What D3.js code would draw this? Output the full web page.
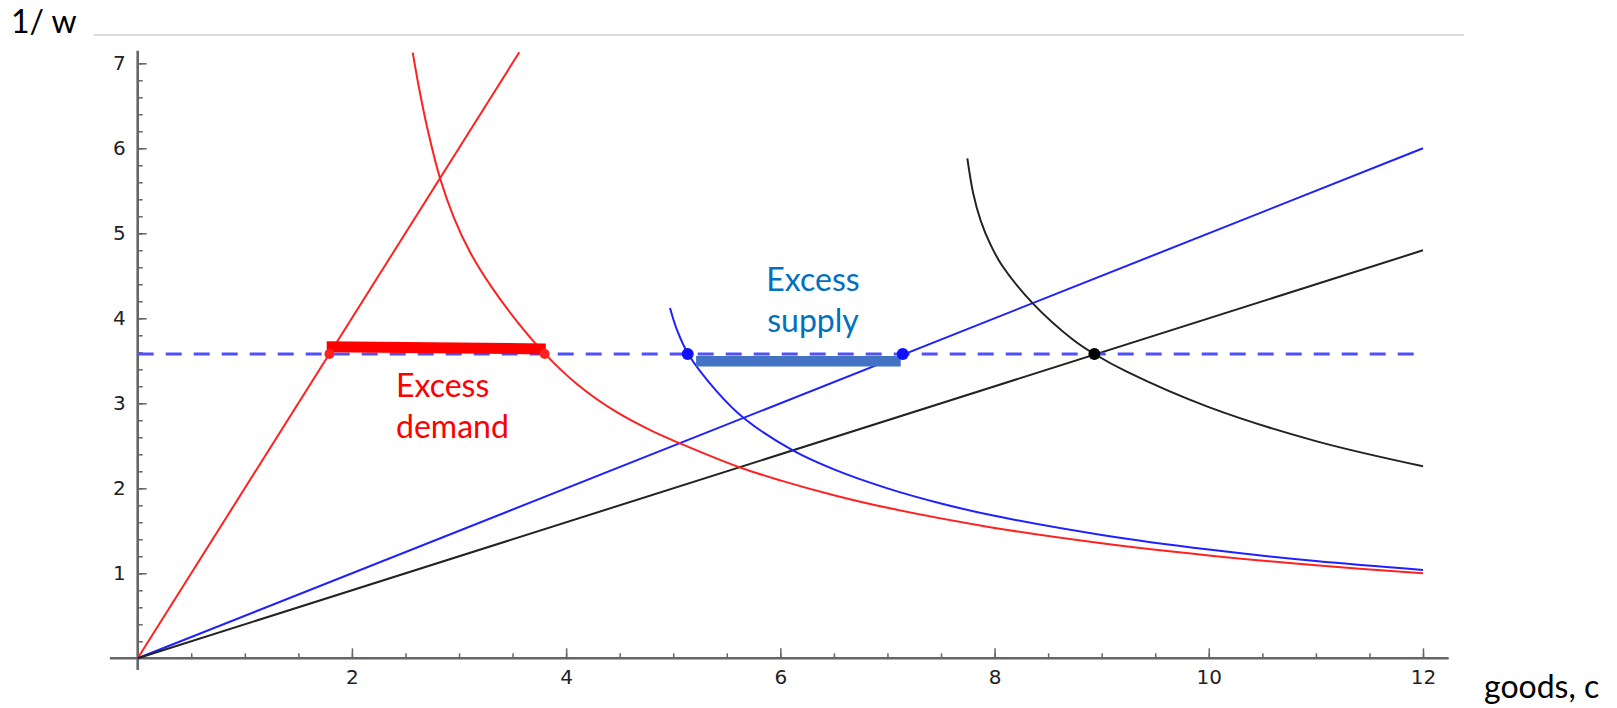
<!DOCTYPE html>
<html>
<head>
<meta charset="utf-8">
<script src="https://cdn.jsdelivr.net/npm/d3@7"></script>
<style>
  html, body { margin: 0; padding: 0; background: #fff; }
  svg { display: block; }
</style>
</head>
<body>
<svg id="chart" width="1617" height="708"></svg>
<script>
// ---------- data ----------
const xMajorTicks = [2, 4, 6, 8, 10, 12];
const yMajorTicks = [1, 2, 3, 4, 5, 6, 7];
const xMinorTicks = d3.range(0.5, 12.01, 0.5);
const yMinorTicks = d3.range(0.2, 7.01, 0.2);

// straight rays through origin: [x, y]
const redRay   = [[0, 0], [3.563, 7.13]];
const blueRay  = [[0, 0], [12, 6.0]];
const blackRay = [[0, 0], [12, 4.8]];

// curved (indifference-like) curves: [x, y]
const redCurve = [
  [2.568, 7.125], [2.62, 6.754], [2.70, 6.26], [2.823, 5.647], [2.95, 5.19],
  [3.1, 4.785], [3.3, 4.375], [3.55, 3.95], [3.8, 3.585], [4.1, 3.228],
  [4.45, 2.913], [4.8, 2.675], [5.057, 2.532], [5.624, 2.245], [6.0, 2.093],
  [6.5, 1.918], [7, 1.77], [8, 1.534], [9, 1.353], [10, 1.21], [11, 1.095], [12, 1.0]
];
const blueCurve = [
  [4.97, 4.12], [5.03, 3.88], [5.14, 3.58], [5.40, 3.15], [5.661, 2.824],
  [6.121, 2.442], [6.5, 2.222], [7, 1.999], [7.5, 1.821], [8, 1.676],
  [9, 1.451], [10, 1.279], [11, 1.144], [12, 1.04]
];
const blackCurve = [
  [7.746, 5.881], [7.8, 5.473], [7.87, 5.151], [7.96, 4.872], [8.07, 4.621],
  [8.357, 4.176], [8.736, 3.745], [8.932, 3.58], [9.234, 3.372], [10, 2.955],
  [11, 2.555], [12, 2.259]
];

const priceLevel = 3.58;            // dashed horizontal line
const priceLineX = [0, 12];

const redDots   = [[1.79, 3.58], [3.80, 3.58]];
const blueDots  = [[5.135, 3.58], [7.143, 3.58]];
const blackDots = [[8.932, 3.58]];

const excessDemandBar = [[1.765, 3.665], [3.81, 3.64]];
const excessSupplyBar = [[5.213, 3.494], [7.124, 3.494]];

const xAxisExtent = [-0.26, 12.24];
const yAxisExtent = [-0.138, 7.148];

const labels = {
  yTitle: "1/ w",
  xTitle: "goods, c",
  demand: ["Excess", "demand"],
  supply: ["Excess", "supply"]
};

// ---------- layout ----------
const svg = d3.select("#chart");
const x = d3.scaleLinear().domain([0, 12]).range([137.7, 1423]);
const y = d3.scaleLinear().domain([0, 7]).range([658.3, 63.3]);

const line = d3.line().x(d => x(d[0])).y(d => y(d[1]));
const curve = d3.line().x(d => x(d[0])).y(d => y(d[1])).curve(d3.curveCatmullRom.alpha(0.5));

// top faint rule
svg.append("line")
  .attr("x1", 94).attr("x2", 1464).attr("y1", 35).attr("y2", 35)
  .attr("stroke", "#dcdcdc").attr("stroke-width", 2);

// axes
const axisColor = "#666";
const gx = svg.append("g").attr("transform", `translate(0,${y(0)})`);
gx.append("line")
  .attr("x1", x(xAxisExtent[0])).attr("x2", x(xAxisExtent[1]))
  .attr("stroke", axisColor).attr("stroke-width", 2.6);
gx.append("g").call(d3.axisBottom(x).tickValues(xMinorTicks).tickSize(-5).tickFormat(""))
  .call(g => g.select(".domain").remove())
  .call(g => g.selectAll("line").attr("stroke", axisColor).attr("stroke-width", 1.5));
gx.append("g").call(d3.axisBottom(x).tickValues(xMajorTicks).tickSize(-10).tickPadding(12).tickFormat(d3.format("d")))
  .call(g => g.select(".domain").remove())
  .call(g => g.selectAll("line").attr("stroke", axisColor).attr("stroke-width", 1.5))
  .call(g => g.selectAll("text").attr("font-family", "DejaVu Sans").attr("font-size", 20).attr("fill", "#222"));

const gy = svg.append("g").attr("transform", `translate(${x(0)},0)`);
gy.append("line")
  .attr("y1", y(yAxisExtent[0])).attr("y2", y(yAxisExtent[1]))
  .attr("stroke", axisColor).attr("stroke-width", 2.6);
gy.append("g").call(d3.axisLeft(y).tickValues(yMinorTicks).tickSize(-5).tickFormat(""))
  .call(g => g.select(".domain").remove())
  .call(g => g.selectAll("line").attr("stroke", axisColor).attr("stroke-width", 1.5));
gy.append("g").call(d3.axisLeft(y).tickValues(yMajorTicks).tickSize(-9).tickPadding(12).tickFormat(d3.format("d")))
  .call(g => g.select(".domain").remove())
  .call(g => g.selectAll("line").attr("stroke", axisColor).attr("stroke-width", 1.5))
  .call(g => g.selectAll("text").attr("font-family", "DejaVu Sans").attr("font-size", 20).attr("fill", "#222"));

// curves
const drawPath = (data, gen, color, w) =>
  svg.append("path").datum(data).attr("d", gen)
    .attr("fill", "none").attr("stroke", color).attr("stroke-width", w)
    .attr("stroke-linejoin", "round");

drawPath(redRay, line, "#ff2020", 2);
drawPath(blueRay, line, "#2020ff", 2);
drawPath(blackRay, line, "#222", 2);
drawPath(redCurve, curve, "#ff2020", 2);
drawPath(blueCurve, curve, "#2020ff", 2);
drawPath(blackCurve, curve, "#222", 2);

// dashed price line
svg.append("line")
  .attr("x1", x(priceLineX[0])).attr("x2", x(priceLineX[1]))
  .attr("y1", y(priceLevel)).attr("y2", y(priceLevel))
  .attr("stroke", "#5050ff").attr("stroke-width", 3)
  .attr("stroke-dasharray", "16,12");

// excess bars
drawPath(excessDemandBar, line, "#ff0000", 11).attr("stroke-linecap", "butt");
drawPath(excessSupplyBar, line, "#4472c4", 10.5).attr("stroke-linecap", "butt");

// dots
const dots = (data, color, r) => svg.append("g").selectAll("circle").data(data).join("circle")
  .attr("cx", d => x(d[0])).attr("cy", d => y(d[1])).attr("r", r).attr("fill", color);
dots(redDots, "#ff2020", 5);
dots(blueDots, "#1010ff", 6);
dots(blackDots, "#000", 6);

// text
const txt = (str, px, py, color, anchor) => svg.append("text")
  .attr("x", px).attr("y", py).text(str)
  .attr("font-family", "Lato, 'Open Sans', sans-serif").attr("font-size", 32)
  .attr("fill", color).attr("text-anchor", anchor || "start");

txt(labels.yTitle, 11, 33.3, "#000");
txt(labels.xTitle, 1484, 698, "#000");
txt(labels.demand[0], 396, 396.7, "#ff0000");
txt(labels.demand[1], 396, 438.3, "#ff0000");
txt(labels.supply[0], 813, 290.7, "#0070c0", "middle");
txt(labels.supply[1], 813, 331.7, "#0070c0", "middle");
</script>
</body>
</html>
